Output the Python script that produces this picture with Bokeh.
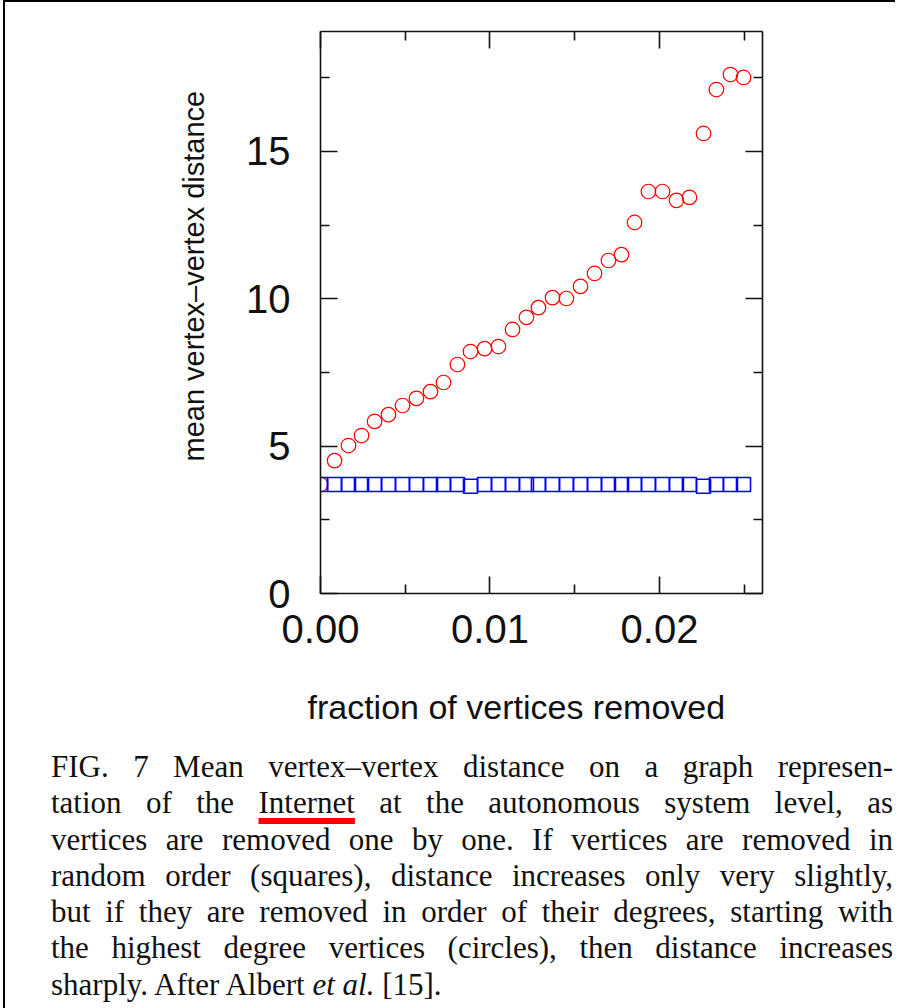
from bokeh.plotting import figure
from bokeh.models import (Range1d, LinearAxis, FixedTicker, PrintfTickFormatter,
                          CustomJSTickFormatter, Div, Title)
from bokeh.layouts import column
from bokeh.embed import file_html
from bokeh.resources import INLINE

# ---------------- data ----------------
fraction_removed = [0.0000, 0.00083, 0.00165, 0.00242, 0.00319, 0.00401, 0.00484, 0.00566,
                    0.00649, 0.00726, 0.00808, 0.00885, 0.00968, 0.01050, 0.01133, 0.01215,
                    0.01286, 0.01369, 0.01451, 0.01534, 0.01617, 0.01699, 0.01776, 0.01853,
                    0.01935, 0.02018, 0.02100, 0.02177, 0.02260, 0.02336, 0.02419, 0.02496]
degree_order_distance = [3.70, 4.51, 5.02, 5.36, 5.84, 6.07, 6.38, 6.62,
                         6.85, 7.16, 7.77, 8.21, 8.31, 8.38, 8.96, 9.37,
                         9.70, 10.04, 10.01, 10.42, 10.86, 11.30, 11.50, 12.59,
                         13.64, 13.64, 13.34, 13.44, 15.61, 17.10, 17.61, 17.51]
random_order_distance = [3.70, 3.70, 3.70, 3.70, 3.70, 3.70, 3.70, 3.70,
                         3.70, 3.70, 3.70, 3.64, 3.70, 3.70, 3.70, 3.70,
                         3.70, 3.70, 3.70, 3.70, 3.70, 3.70, 3.70, 3.70,
                         3.70, 3.70, 3.70, 3.70, 3.64, 3.70, 3.70, 3.70]
x_major_ticks = [0.0, 0.01, 0.02]
x_minor_ticks = [0.005, 0.015, 0.025]
y_major_ticks = [0, 5, 10, 15]
y_minor_ticks = [2.5, 7.5, 12.5, 17.5]
x_title = "fraction of vertices removed"
y_title = "mean vertex\u2013vertex distance"
caption_lines = [
    "FIG. 7 Mean vertex\u2013vertex distance on a graph represen-",
    "tation of the Internet at the autonomous system level, as",
    "vertices are removed one by one. If vertices are removed in",
    "random order (squares), distance increases only very slightly,",
    "but if they are removed in order of their degrees, starting with",
    "the highest degree vertices (circles), then distance increases",
    "sharply. After Albert et al. [15].",
]

# ---------------- figure ----------------
AX_FONT = "Liberation Sans"
FIG_H = 786
p = figure(width=880, height=FIG_H,
           x_range=Range1d(0, 0.02608), y_range=Range1d(0, 19.07),
           output_backend="svg", toolbar_location=None,
           min_border_left=315, min_border_right=123,
           min_border_top=29, min_border_bottom=195)
p.grid.visible = False
p.outline_line_color = None
p.background_fill_color = "white"
p.border_fill_color = "white"


def style_axis(ax, major, minor, labels=True):
    ax.ticker = FixedTicker(ticks=major, minor_ticks=minor)
    ax.axis_line_color = "#111111"
    ax.axis_line_width = 1.6
    ax.major_tick_line_color = "#111111"
    ax.minor_tick_line_color = "#111111"
    ax.major_tick_line_width = 1.6
    ax.minor_tick_line_width = 1.6
    ax.major_tick_in = 17
    ax.major_tick_out = 0
    ax.minor_tick_in = 9
    ax.minor_tick_out = 0
    ax.major_label_text_font = AX_FONT
    ax.major_label_text_color = "#111111"
    if not labels:
        ax.formatter = CustomJSTickFormatter(code="return ''")
        ax.major_label_standoff = 0


xax = p.xaxis[0]
style_axis(xax, x_major_ticks, x_minor_ticks)
xax.formatter = PrintfTickFormatter(format="%.2f")
xax.major_label_text_font_size = "40px"
xax.major_label_standoff = 21

yax = p.yaxis[0]
style_axis(yax, y_major_ticks, y_minor_ticks)
yax.major_label_text_font_size = "40px"
yax.major_label_standoff = 30
yax.major_label_orientation = "horizontal"

top_ax = LinearAxis()
style_axis(top_ax, x_major_ticks, x_minor_ticks, labels=False)
p.add_layout(top_ax, "above")
right_ax = LinearAxis()
style_axis(right_ax, y_major_ticks, y_minor_ticks, labels=False)
p.add_layout(right_ax, "right")

# axis titles, offset from the frame centre as in the original
p.add_layout(Title(text=x_title, align="left", offset=-13, vertical_align="top",
                   standoff=84, text_font=AX_FONT, text_font_size="34px",
                   text_font_style="normal", text_color="#111111"), "below")
p.add_layout(Title(text=y_title, align="left", offset=132, vertical_align="bottom",
                   standoff=67, text_font=AX_FONT, text_font_size="29px",
                   text_font_style="normal", text_color="#111111"), "left")

p.scatter(fraction_removed, degree_order_distance, marker="circle", size=14.5,
          fill_color=None, line_color="#ff0000", line_width=1.2)
p.scatter(fraction_removed, random_order_distance, marker="square", size=14,
          fill_color=None, line_color="#0000ff", line_width=1.6)

# ---------------- caption ----------------
rows = []
for i, line in enumerate(caption_lines):
    txt = line
    if "Internet" in txt:
        txt = txt.replace("Internet",
                          "<span style=\"text-decoration: underline; text-decoration-color: #ff0000;"
                          " text-decoration-thickness: 6px; text-underline-offset: 5px;\">Internet</span>")
    if "et al." in txt:
        txt = txt.replace("et al.", "<i>et al.</i>")
    if i < len(caption_lines) - 1:
        rows.append("<div style=\"text-align: justify; text-align-last: justify;\">%s</div>" % txt)
    else:
        rows.append("<div style=\"text-align: left;\">%s</div>" % txt)

shift = FIG_H - 738 - 4
html = ("<div style=\"box-sizing: content-box; font-family: 'Liberation Serif', serif;"
        " font-size: 31px; line-height: 36.3px; color: #111111; padding-left: 41px;"
        " margin-top: -%dpx; width: 842px;\">" % shift + "".join(rows) + "</div>")
cap = Div(text=html, width=880, height=210)

layout = column(p, cap, styles={"border-top": "2px solid #000000",
                                "border-left": "2px solid #000000",
                                "margin-left": "3px"})

open("out.html", "w").write(file_html(layout, INLINE))
